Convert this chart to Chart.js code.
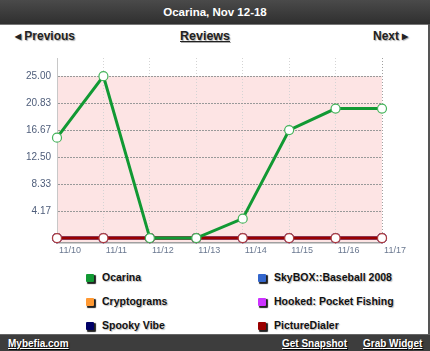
<!DOCTYPE html>
<html>
<head>
<meta charset="utf-8">
<script src="https://cdn.jsdelivr.net/npm/chart.js@4"></script>
<style>
  html, body { margin: 0; padding: 0; }
  body {
    width: 430px; height: 351px; position: relative; overflow: hidden;
    background: #fff; font-family: "Liberation Sans", Arial, sans-serif;
  }
  .header {
    position: absolute; left: 0; top: 0; width: 430px; height: 24px;
    background: linear-gradient(#4a4a4a, #2f2f2f);
    border-bottom: 1px solid #777;
    color: #fff; font-weight: bold; font-size: 11.5px;
    text-align: center; line-height: 24px;
  }
  .edge { position: absolute; left: 428px; top: 24px; width: 2px; height: 311px; background: #555; }
  .nav { position: absolute; top: 29px; font-weight: bold; font-size: 12px; color: #222;
    text-shadow: 1px 1px 1px #aaa; }
  .nav.prev { left: 15px; }
  .nav.title { left: 180px; text-decoration: underline; font-size: 12.5px; }
  .nav.next { left: 373px; }
  .tri { font-size: 8px; vertical-align: 1px; }
  #wrap { position: absolute; left: 0; top: 50px; width: 430px; height: 212px; }
  .legend { position: absolute; left: 0; top: 271px; width: 430px; }
  .item { position: absolute; font-weight: bold; font-size: 10.5px; color: #111;
    text-shadow: 1px 1px 1px #bbb; white-space: nowrap; }
  .item i { position: absolute; left: -16px; top: 3px; width: 8px; height: 8px; border-radius: 1px;
    box-shadow: 1.5px 1.5px 1px #222; }
  .footer {
    position: absolute; left: 0; top: 334px; width: 430px; height: 17px;
    background: #3d3d3d; border-top: 1px solid #666;
  }
  .footer a { position: absolute; top: 3px; color: #fff; font-weight: bold; font-size: 10px;
    text-decoration: underline; text-shadow: 1px 1px 1px #000; }
</style>
</head>
<body>
<div class="header">Ocarina, Nov 12-18</div>
<div class="edge"></div>
<div class="nav prev"><span class="tri">&#9664;</span> Previous</div>
<div class="nav title">Reviews</div>
<div class="nav next">Next <span class="tri">&#9654;</span></div>
<div id="wrap"><canvas id="chart"></canvas></div>
<div class="legend" id="legend"></div>
<div class="footer">
  <a style="left:8px">Mybefia.com</a>
  <a style="left:282px">Get Snapshot</a>
  <a style="left:363px">Grab Widget</a>
</div>
<script>
const days = ["11/10", "11/11", "11/12", "11/13", "11/14", "11/15", "11/16", "11/17"];
const ocarina = [15.5, 25, 0, 0, 3, 16.67, 20, 20];
const pictureDialer = [0, 0, 0, 0, 0, 0, 0, 0];
const skybox = [0, 0, 0, 0, 0, 0, 0, 0];
const cryptograms = [0, 0, 0, 0, 0, 0, 0, 0];
const hooked = [0, 0, 0, 0, 0, 0, 0, 0];
const spookyVibe = [0, 0, 0, 0, 0, 0, 0, 0];
const yTicks = [0, 4.17, 8.33, 12.5, 16.67, 20.83, 25];

// first in the list is drawn on top
const series = [
  { name: "Ocarina", data: ocarina, color: "#119933", point: "#44b35a" },
  { name: "PictureDialer", data: pictureDialer, color: "#990000", point: "#b03a3a" },
  { name: "SkyBOX::Baseball 2008", data: skybox, color: "#3366cc", point: "#3366cc" },
  { name: "Cryptograms", data: cryptograms, color: "#ff9933", point: "#ff9933" },
  { name: "Hooked: Pocket Fishing", data: hooked, color: "#cc33ff", point: "#cc33ff" },
  { name: "Spooky Vibe", data: spookyVibe, color: "#000066", point: "#000066" },
];

// legend, two columns like the widget
const legendOrder = ["Ocarina", "SkyBOX::Baseball 2008", "Cryptograms", "Hooked: Pocket Fishing", "Spooky Vibe", "PictureDialer"];
const legendEl = document.getElementById("legend");
legendOrder.forEach((name, i) => {
  const s = series.find((d) => d.name === name);
  const el = document.createElement("div");
  el.className = "item";
  el.style.left = (i % 2 === 0 ? 102 : 274) + "px";
  el.style.top = Math.floor(i / 2) * 24 + "px";
  el.innerHTML = '<i style="background:' + s.color + '"></i>' + name;
  legendEl.appendChild(el);
});

const pinkArea = {
  id: "pinkArea",
  beforeDraw(chart) {
    const { ctx, chartArea, scales } = chart;
    const top = scales.y.getPixelForValue(25);
    ctx.save();
    ctx.fillStyle = "#fde4e4";
    ctx.fillRect(chartArea.left, top, chartArea.right - chartArea.left, chartArea.bottom - top);
    ctx.restore();
  },
};

const ctx = document.getElementById("chart").getContext("2d");
new Chart(ctx, {
  type: "line",
  data: {
    labels: days,
    datasets: series.map((s) => ({
      label: s.name,
      data: s.data,
      borderColor: s.color,
      borderWidth: 3,
      tension: 0,
      clip: false,
      pointRadius: 4.5,
      pointBackgroundColor: "#fff",
      pointBorderColor: s.point,
      pointBorderWidth: 1.2,
    })),
  },
  options: {
    responsive: true,
    maintainAspectRatio: false,
    animation: false,
    layout: { padding: { top: 5, right: 48, left: 0, bottom: 0 } },
    plugins: {
      legend: { display: false },
      tooltip: { enabled: false },
    },
    scales: {
      x: {
        offset: false,
        grid: {
          color: (c) => (c.index === days.length - 1 ? "#a0a0a0" : "#d4d4d4"),
          drawTicks: false,
        },
        border: { color: "#a0a0a0", width: 1.5, dash: [1, 2] },
        ticks: {
          color: "#6a7890",
          font: { size: 9, family: "Liberation Sans" },
          labelOffset: 13,
          padding: 2,
          maxRotation: 0,
        },
        afterFit(scale) {
          scale.height = 19;
        },
      },
      y: {
        min: -0.76,
        max: 27.8,
        afterBuildTicks(scale) {
          scale.ticks = yTicks.map((v) => ({ value: v }));
        },
        grid: {
          color: (c) => (c.tick && c.tick.value <= 25 ? "#999" : "transparent"),
          tickColor: (c) => (c.tick && c.tick.value === 0 ? "#888" : "transparent"),
          tickLength: 4,
        },
        border: { color: "#c8c8c8", width: 1, dash: [2, 1] },
        ticks: {
          color: "#4e5d7a",
          font: { size: 10, family: "Liberation Sans" },
          padding: 2,
          callback: (v) => (v === 0 ? "" : v.toFixed(2)),
        },
        afterFit(scale) {
          scale.width = 57;
        },
      },
    },
  },
  plugins: [pinkArea],
});
</script>
</body>
</html>
